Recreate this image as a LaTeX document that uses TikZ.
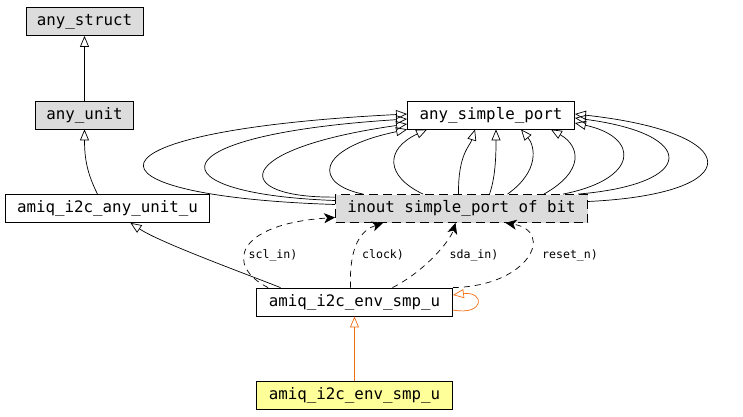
\documentclass[tikz,border=0pt]{standalone}
\usepackage{fontspec}
\newfontfamily\nodefont{DejaVu Sans Mono}
\usetikzlibrary{arrows.meta}
\definecolor{grayfill}{RGB}{220,220,220}
\definecolor{legfill}{RGB}{255,255,153}
\definecolor{tmplorange}{RGB}{240,110,20}
\tikzstyle{cls} = [rectangle, minimum height=28pt, inner sep=0pt, text centered, draw=black, fill=white, line width=0.8pt, font=\nodefont\fontsize{15.8}{18}\selectfont]
\tikzstyle{ext} = [cls, fill=grayfill]
\tikzstyle{tmpl} = [cls, fill=grayfill, dash pattern=on 9pt off 5pt]
\tikzstyle{leg} = [cls, fill=legfill]
\tikzstyle{lbl} = [font=\nodefont\fontsize{11.6}{13}\selectfont, inner sep=0pt]
\tikzstyle{inherit} = [line width=0.7pt, -{Triangle[open, length=11pt, width=9pt]}]
\tikzstyle{uses} = [line width=0.7pt, dash pattern=on 6pt off 5pt, -{Stealth[length=11pt, width=10pt, inset=3pt]}]
\tikzstyle{tmplarrow} = [inherit, draw=tmplorange]
\begin{document}
\begin{tikzpicture}[x=1pt, y=1pt, node distance=93.5pt]
\useasboundingbox (0,0) rectangle (743,416);
\node (struct) [ext, minimum width=117pt] at (84.5,394.5) {any\_struct};
\node (unit) [ext, minimum width=98pt, below of=struct] {any\_unit};
\node (anyunitu) [cls, minimum width=204pt, below of=unit, xshift=23pt] {amiq\_i2c\_any\_unit\_u};
\node (port) [cls, minimum width=167pt, right of=unit, xshift=313pt] {any\_simple\_port};
\node (inout) [tmpl, minimum width=252pt, below of=port, xshift=-29.5pt] {inout simple\_port of bit};
\node (env) [cls, minimum width=196pt, below of=inout, xshift=-107pt] {amiq\_i2c\_env\_smp\_u};
\node (envleg) [leg, minimum width=196pt, below of=env] {amiq\_i2c\_env\_smp\_u};
% inheritance
\draw [inherit] (unit) -- (struct);
\draw [inherit] ([xshift=-10pt]anyunitu.north) .. controls +(-10,20) and +(0,-30) .. (unit.south);
\draw [inherit] ([xshift=-74pt]env.north) .. controls +(-30,12) and +(30,-20) .. ([xshift=23pt]anyunitu.south);
% template instance to any_simple_port
\draw [inherit] ([yshift=4pt]inout.west) .. controls (70,220) and (70,285) .. ([yshift=1pt]port.west);
\draw [inherit] ([yshift=8pt]inout.west) .. controls (152,222) and (152,281) .. ([yshift=-4pt]port.west);
\draw [inherit] ([yshift=-3pt]inout.north west) .. controls (230,218) and (230,267) .. ([yshift=-9pt]port.west);
\draw [inherit] ([xshift=28pt]inout.north west) .. controls (314,232) and (314,267) .. (port.south west);
\draw [inherit] ([xshift=88pt]inout.north west) .. controls (385,240) and (385,267) .. ([xshift=20pt]port.south west);
\draw [inherit] ([xshift=-3pt]inout.north) .. controls (458,262) and (470,270) .. ([xshift=-16pt]port.south);
\draw [inherit] ([xshift=28pt]inout.north) .. controls (496,240) and (496,265) .. ([xshift=5pt]port.south);
\draw [inherit] ([xshift=46pt]inout.north) .. controls (540,245) and (535,270) .. ([xshift=30pt]port.south);
\draw [inherit] ([xshift=-44pt]inout.north east) .. controls (585,245) and (580,270) .. ([xshift=-24pt]port.south east);
\draw [inherit] ([xshift=-25pt]inout.north east) .. controls (640,237) and (640,279) .. ([yshift=-8pt]port.east);
\draw [inherit] ([xshift=-10pt]inout.north east) .. controls (698,232) and (698,282) .. ([yshift=-3pt]port.east);
\draw [inherit] ([yshift=7pt]inout.east) .. controls (748,222) and (748,283) .. ([yshift=1pt]port.east);
% ports used by the env
\draw [uses] ([xshift=12pt]env.north west) .. controls (225,150) and (235,192) .. ([yshift=-9pt]inout.west);
\draw [uses] ([xshift=-4pt]env.north) .. controls (349,172) and (362,186) .. ([xshift=48pt]inout.south west);
\draw [uses] ([xshift=38pt]env.north) .. controls (425,145) and (450,175) .. ([xshift=-6pt]inout.south);
\draw [uses] (env.north east) .. controls (530,130) and (555,185) .. ([xshift=44pt]inout.south);
\node (lscl) [lbl] at (273,161) {scl\_in)};
\node (lclock) [lbl] at (383,161) {clock)};
\node (lsda) [lbl] at (474,161) {sda\_in)};
\node (lreset) [lbl] at (570,161) {reset\_n)};
% template
\draw [tmplarrow] ([yshift=-8pt]env.east) .. controls (485,100) and (485,125) .. ([yshift=7pt]env.east);
\draw [tmplarrow] (envleg) -- (env);
\end{tikzpicture}
\end{document}
